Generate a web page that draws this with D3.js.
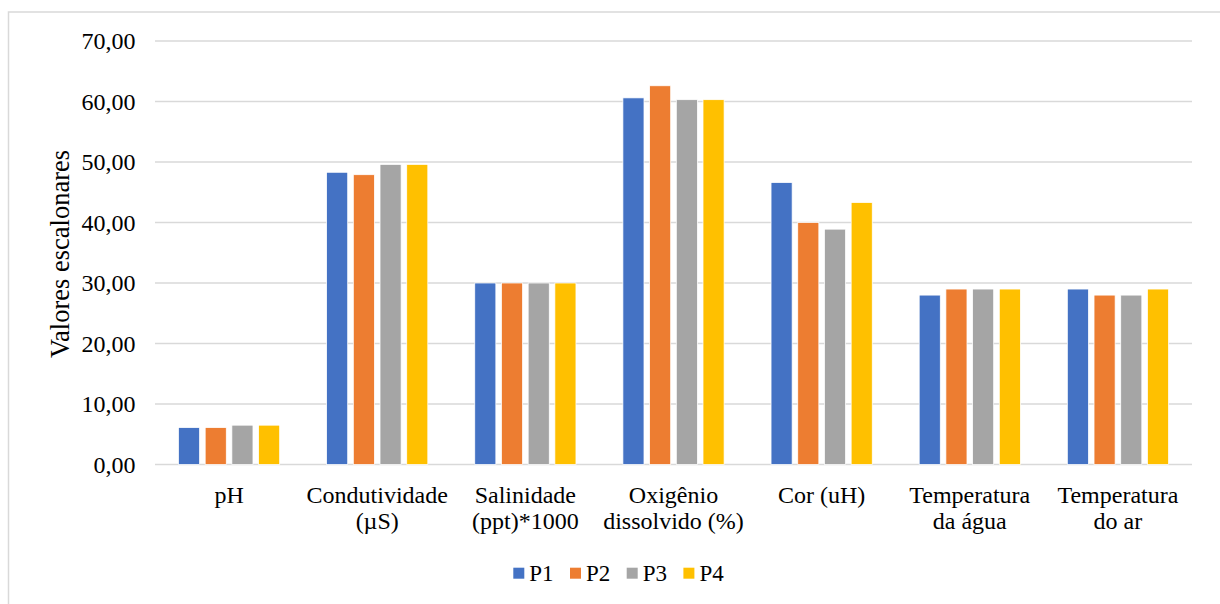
<!DOCTYPE html>
<html>
<head>
<meta charset="utf-8">
<script src="https://cdn.jsdelivr.net/npm/d3@7"></script>
</head>
<body style="margin:0">
<svg id="chart" width="1220" height="604"></svg>
<script>
// Parameters measured at each sampling point
const categories = [
  ["pH"],
  ["Condutividade", "(µS)"],
  ["Salinidade", "(ppt)*1000"],
  ["Oxigênio", "dissolvido (%)"],
  ["Cor (uH)"],
  ["Temperatura", "da água"],
  ["Temperatura", "do ar"]
];
const seriesNames = ["P1", "P2", "P3", "P4"];
const P1 = [6.1, 48.3, 30.0, 60.6, 46.6, 28.0, 29.0];
const P2 = [6.1, 47.9, 30.0, 62.6, 40.0, 29.0, 28.0];
const P3 = [6.5, 49.6, 30.0, 60.3, 38.9, 29.0, 28.0];
const P4 = [6.5, 49.6, 30.0, 60.3, 43.3, 29.0, 29.0];
const yTicks = [0, 10, 20, 30, 40, 50, 60, 70];
const colors = ["#4472C4", "#ED7D31", "#A5A5A5", "#FFC000"];
const yTitle = "Valores escalonares";

const seriesValues = [P1, P2, P3, P4];
const FONT = '"Liberation Serif", "Tinos", "Times New Roman", "Times", "FreeSerif"';
const svg = d3.select("#chart");

// chart frame
svg.append("rect")
  .attr("x", 8.5).attr("y", 12)
  .attr("width", 1230).attr("height", 620)
  .attr("fill", "none").attr("stroke", "#d9d9d9").attr("stroke-width", 1.5);

const plot = { left: 155, right: 1192, top: 41, bottom: 464.5 };

const x0 = d3.scaleBand()
  .domain(d3.range(categories.length))
  .range([plot.left, plot.right])
  .paddingInner(0.279)
  .paddingOuter(0.1395);

const x1 = d3.scaleBand()
  .domain(d3.range(seriesNames.length))
  .range([0, x0.bandwidth()])
  .paddingInner(0.21)
  .paddingOuter(0.105);

const y = d3.scaleLinear().domain([0, 70]).range([plot.bottom, plot.top]);

// horizontal gridlines
svg.append("g")
  .selectAll("line")
  .data(yTicks)
  .join("line")
  .attr("x1", plot.left).attr("x2", plot.right)
  .attr("y1", d => y(d)).attr("y2", d => y(d))
  .attr("stroke", "#d9d9d9").attr("stroke-width", 1.5);

// y tick labels
const fmt = d => d3.format(".2f")(d).replace(".", ",");
yTicks.forEach(t => {
  svg.append("text")
    .attr("x", 135.5)
    .attr("y", y(t) + 8)
    .attr("text-anchor", "end")
    .attr("font-size", 24)
    .style("font-family", FONT)
    .text(fmt(t));
});

// y axis title
svg.append("text")
  .attr("transform", `translate(68.5, ${(148 + 360) / 2}) rotate(-90)`)
  .attr("text-anchor", "middle")
  .attr("font-size", 26.5)
  .style("font-family", FONT)
  .text(yTitle);

// bars
const groups = svg.append("g")
  .selectAll("g")
  .data(categories.map((c, i) => i))
  .join("g")
  .attr("transform", i => `translate(${x0(i)},0)`);

groups.selectAll("rect")
  .data(i => seriesValues.map((vals, s) => ({ s, v: vals[i] })))
  .join("rect")
  .attr("x", d => x1(d.s))
  .attr("width", x1.bandwidth())
  .attr("y", d => y(d.v))
  .attr("height", d => y(0) - y(d.v))
  .attr("fill", d => colors[d.s])
  .attr("stroke", "#fff")
  .attr("stroke-width", 0.75);

// category labels, one text element per line
categories.forEach((lines, i) => {
  const cx = x0(i) + x0.bandwidth() / 2;
  lines.forEach((line, k) => {
    svg.append("text")
      .attr("x", cx)
      .attr("y", 502.5 + k * 26.5)
      .attr("text-anchor", "middle")
      .attr("font-size", 24)
      .style("font-family", FONT)
      .text(line);
  });
});

// legend
seriesNames.forEach((n, s) => {
  const lx = 513.3 + s * 56.7;
  svg.append("rect")
    .attr("x", lx).attr("y", 567.7)
    .attr("width", 11).attr("height", 11)
    .attr("fill", colors[s]);
  svg.append("text")
    .attr("x", lx + 16).attr("y", 581)
    .attr("font-size", 23)
    .style("font-family", FONT)
    .text(n);
});
</script>
</body>
</html>
